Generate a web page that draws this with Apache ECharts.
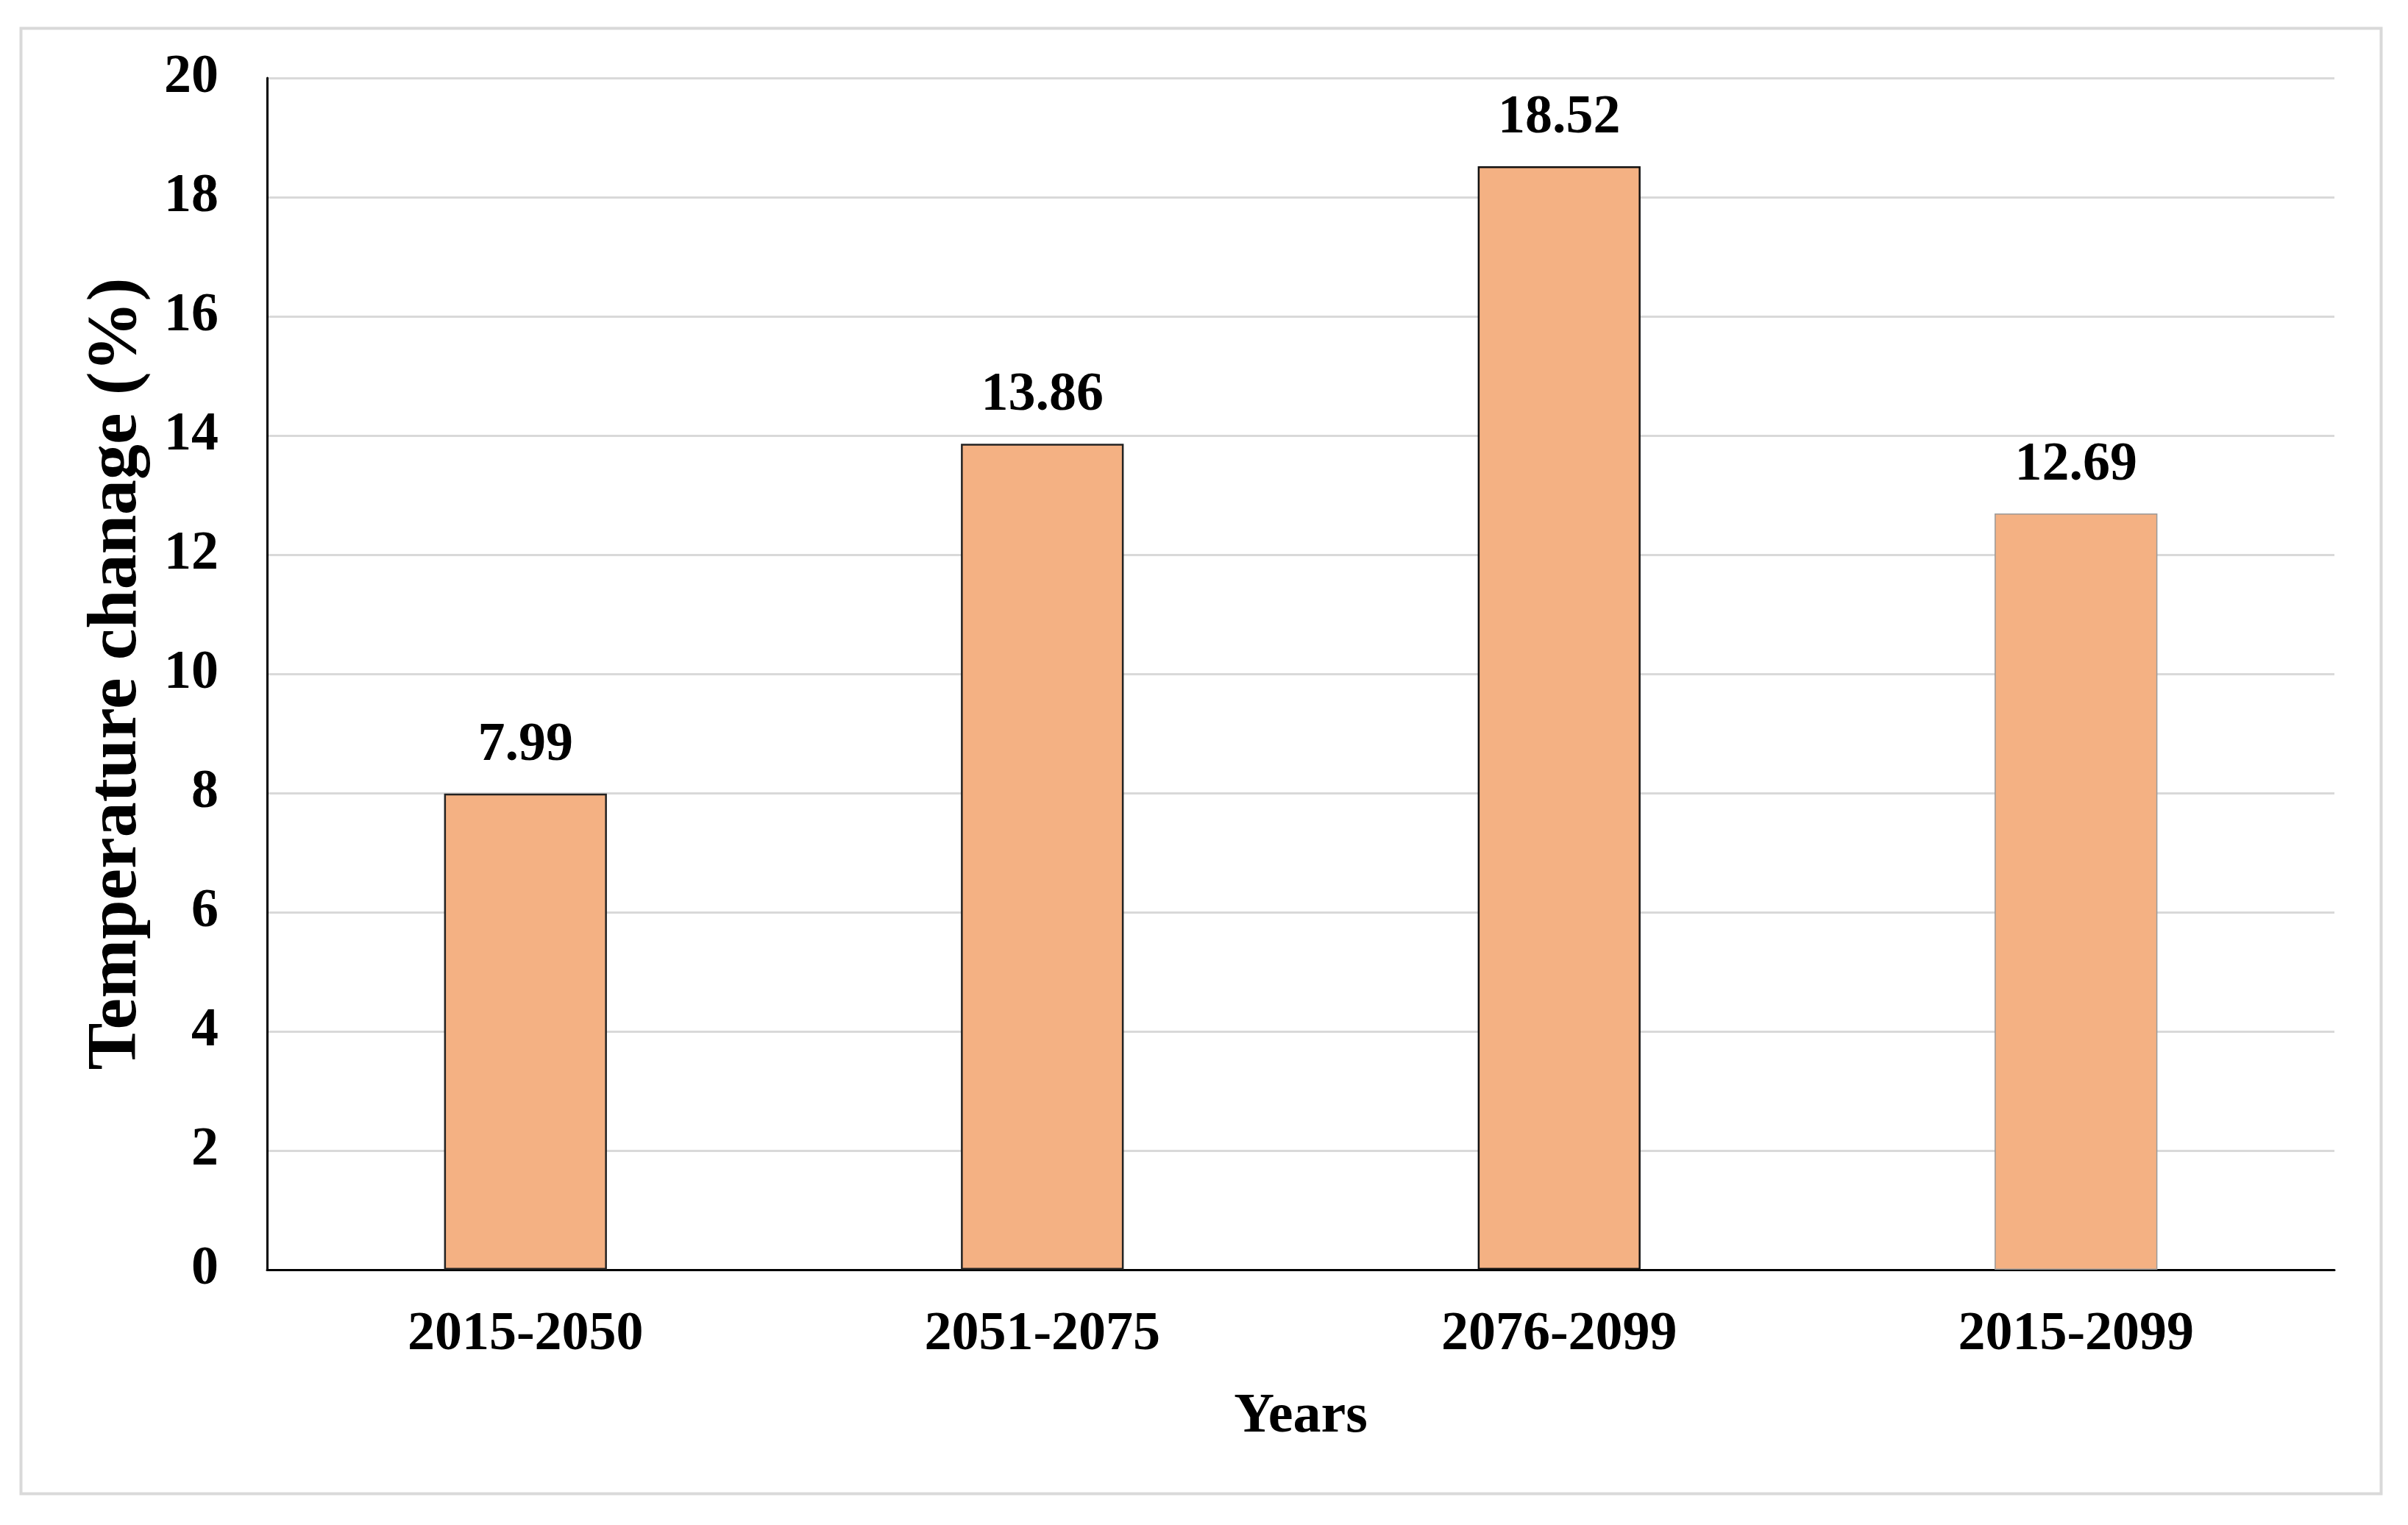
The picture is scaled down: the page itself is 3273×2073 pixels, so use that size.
<!DOCTYPE html>
<html>
<head>
<meta charset="utf-8">
<script src="https://cdn.jsdelivr.net/npm/echarts@6/dist/echarts.min.js"></script>
<style>
html,body{margin:0;padding:0;background:#fff;}
#chart{width:3273px;height:2073px;}
</style>
</head>
<body>
<div id="chart"></div>
<script>
const categories = ['2015-2050', '2051-2075', '2076-2099', '2015-2099'];
const values = [7.99, 13.86, 18.52, 12.69];
const yTicks = { min: 0, max: 20, interval: 2 };
const barBorders = ['#222222', '#222222', '#111111', '#9a9a9a'];

const FONT = '"Liberation Serif", "Times New Roman", serif';
const chart = echarts.init(document.getElementById('chart'), null, { renderer: 'canvas' });

const option = {
  backgroundColor: '#ffffff',
  animation: false,
  graphic: [{
    type: 'rect',
    left: 26, top: 36,
    shape: { width: 3208, height: 1992 },
    style: { fill: 'none', stroke: '#d9d9d9', lineWidth: 4 },
    silent: true
  }],
  grid: { left: 363, right: 100, top: 106, bottom: 347, containLabel: false },
  xAxis: {
    type: 'category',
    data: categories,
    name: 'Years',
    nameLocation: 'middle',
    nameGap: 162,
    nameTextStyle: { fontFamily: FONT, fontWeight: 'bold', fontSize: 76, color: '#000' },
    axisLine: { show: true, lineStyle: { color: '#000', width: 3 } },
    axisTick: { show: false },
    axisLabel: { fontFamily: FONT, fontWeight: 'bold', fontSize: 74, color: '#000', margin: 52 },
    splitLine: { show: false }
  },
  yAxis: {
    type: 'value',
    min: yTicks.min, max: yTicks.max, interval: yTicks.interval,
    name: 'Temperature chanage (%)',
    nameLocation: 'middle',
    nameRotate: 90,
    nameGap: 156,
    nameTextStyle: { fontFamily: FONT, fontWeight: 'bold', fontSize: 96, color: '#000' },
    axisLine: { show: true, lineStyle: { color: '#000', width: 3 } },
    axisTick: { show: false },
    axisLabel: { fontFamily: FONT, fontWeight: 'bold', fontSize: 74, color: '#000', margin: 66 },
    splitLine: { show: true, lineStyle: { color: '#d9d9d9', width: 3 } }
  },
  series: [{
    type: 'bar',
    barWidth: '31.5%',
    data: values.map((v, i) => ({
      value: v,
      itemStyle: { color: '#F4B183', borderColor: barBorders[i], borderWidth: i === 3 ? 1.5 : 2.5 }
    })),
    label: {
      show: true,
      position: 'top',
      distance: 28,
      fontFamily: FONT, fontWeight: 'bold', fontSize: 74, color: '#000',
      formatter: p => p.value.toFixed(2)
    }
  }]
};
chart.setOption(option);
</script>
</body>
</html>
